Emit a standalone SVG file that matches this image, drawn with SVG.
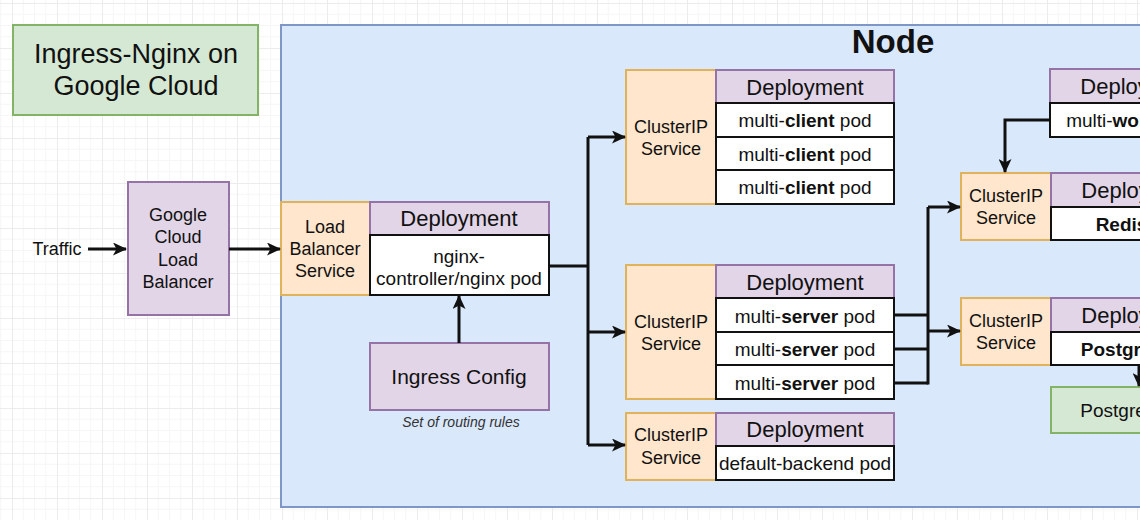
<svg xmlns="http://www.w3.org/2000/svg" width="1140" height="520" viewBox="0 0 1140 520">
<style>
text{font-family:"Liberation Sans",Arial,sans-serif;fill:#111;text-anchor:middle;dominant-baseline:central}
.svc{fill:#ffe6cc;stroke:#e0b25c;stroke-width:2}
.hdr{fill:#e1d5e7;stroke:#9673a6;stroke-width:2}
.pod{fill:#ffffff;stroke:#111;stroke-width:2}
.prp{fill:#e1d5e7;stroke:#9673a6;stroke-width:2}
.grn{fill:#d5e8d4;stroke:#82b366;stroke-width:2}
.t18{font-size:18px}
.t19{font-size:19px}
.t22{font-size:22px}
.b{font-weight:bold}
.cn{fill:none;stroke:#111;stroke-width:3}
.ca{fill:none;stroke:#111;stroke-width:3;marker-end:url(#arr)}
</style>
<defs>
<pattern id="grid" x="12" y="3" width="45" height="45" patternUnits="userSpaceOnUse">
<path d="M11.25,0V45M22.5,0V45M33.75,0V45M0,11.25H45M0,22.5H45M0,33.75H45" fill="none" stroke="#f6f6f6" stroke-width="1"/>
<path d="M0.5,0V45M0,0.5H45" fill="none" stroke="#ececec" stroke-width="1"/>
</pattern>
<marker id="arr" viewBox="0 0 14 13" markerWidth="14" markerHeight="13" refX="13" refY="6.5" orient="auto" markerUnits="userSpaceOnUse">
<path d="M0,0 L14,6.5 L0,13 L3.5,6.5 Z" fill="#111"/>
</marker>
</defs>
<rect x="0" y="0" width="1140" height="520" fill="#ffffff"/>
<rect x="0" y="0" width="1140" height="520" fill="url(#grid)"/>

<g id="title">
<rect class="grn" x="13" y="25" width="245" height="90"/>
<text x="136" y="54" style="font-size:27px">Ingress-Nginx on</text>
<text x="136" y="86" style="font-size:27px">Google Cloud</text>
</g>

<g id="node-container">
<rect x="281" y="25" width="900" height="482" fill="#dae8fc" stroke="#7f97c6" stroke-width="2"/>
<text x="893" y="41" class="b" style="font-size:33px">Node</text>
</g>

<g id="traffic">
<text class="t18" x="57" y="249">Traffic</text>
</g>

<g id="gclb">
<rect class="prp" x="128" y="182" width="101" height="133"/>
<text class="t18" x="178" y="215">Google</text>
<text class="t18" x="178" y="237">Cloud</text>
<text class="t18" x="178" y="260">Load</text>
<text class="t18" x="178" y="282">Balancer</text>
</g>

<g id="lb-service">
<rect class="svc" x="281" y="202" width="89" height="93"/>
<text class="t18" x="325" y="227">Load</text>
<text class="t18" x="325" y="249">Balancer</text>
<text class="t18" x="325" y="271">Service</text>
</g>

<g id="nginx-deployment">
<rect class="hdr" x="370" y="202" width="179" height="33"/>
<text class="t22" x="459" y="218">Deployment</text>
<rect class="pod" x="370" y="235" width="179" height="60"/>
<text class="t19" x="459" y="256">nginx-</text>
<text class="t19" x="459" y="278">controller/nginx pod</text>
</g>

<g id="ingress-config">
<rect class="prp" x="370" y="343" width="179" height="67"/>
<text x="459" y="376" style="font-size:21px">Ingress Config</text>
<text x="461" y="422" style="font-size:14px;font-style:italic;fill:#333">Set of routing rules</text>
</g>

<g id="client-group">
<rect class="svc" x="626" y="70" width="90" height="134"/>
<text class="t18" x="671" y="127">ClusterIP</text>
<text class="t18" x="671" y="149">Service</text>
<rect class="hdr" x="716" y="70" width="178" height="33"/>
<text class="t22" x="805" y="87">Deployment</text>
<rect class="pod" x="716" y="103" width="178" height="34"/>
<text class="t19" x="805" y="120">multi-<tspan class="b">client</tspan> pod</text>
<rect class="pod" x="716" y="137" width="178" height="33"/>
<text class="t19" x="805" y="154">multi-<tspan class="b">client</tspan> pod</text>
<rect class="pod" x="716" y="170" width="178" height="34"/>
<text class="t19" x="805" y="187">multi-<tspan class="b">client</tspan> pod</text>
</g>

<g id="server-group">
<rect class="svc" x="626" y="265" width="90" height="134"/>
<text class="t18" x="671" y="322">ClusterIP</text>
<text class="t18" x="671" y="344">Service</text>
<rect class="hdr" x="716" y="265" width="178" height="33"/>
<text class="t22" x="805" y="282">Deployment</text>
<rect class="pod" x="716" y="298" width="178" height="34"/>
<text class="t19" x="805" y="316">multi-<tspan class="b">server</tspan> pod</text>
<rect class="pod" x="716" y="332" width="178" height="33"/>
<text class="t19" x="805" y="349">multi-<tspan class="b">server</tspan> pod</text>
<rect class="pod" x="716" y="365" width="178" height="34"/>
<text class="t19" x="805" y="383">multi-<tspan class="b">server</tspan> pod</text>
</g>

<g id="backend-group">
<rect class="svc" x="626" y="413" width="90" height="67"/>
<text class="t18" x="671" y="435">ClusterIP</text>
<text class="t18" x="671" y="458">Service</text>
<rect class="hdr" x="716" y="413" width="178" height="33"/>
<text class="t22" x="805" y="429">Deployment</text>
<rect class="pod" x="716" y="446" width="178" height="34"/>
<text class="t19" x="805" y="463">default-backend pod</text>
</g>

<g id="worker-group">
<rect class="hdr" x="1050" y="69" width="178" height="34"/>
<text class="t22" x="1139" y="86">Deployment</text>
<rect class="pod" x="1050" y="103" width="178" height="34"/>
<text class="t19" x="1139" y="120">multi-<tspan class="b">worker</tspan> pod</text>
</g>

<g id="redis-group">
<rect class="svc" x="961" y="173" width="90" height="67"/>
<text class="t18" x="1006" y="196">ClusterIP</text>
<text class="t18" x="1006" y="218">Service</text>
<rect class="hdr" x="1051" y="173" width="178" height="34"/>
<text class="t22" x="1140" y="190">Deployment</text>
<rect class="pod" x="1051" y="207" width="178" height="33"/>
<text class="t19" x="1140" y="224"><tspan class="b">Redis</tspan> pod</text>
</g>

<g id="postgres-group">
<rect class="svc" x="961" y="298" width="90" height="67"/>
<text class="t18" x="1006" y="321">ClusterIP</text>
<text class="t18" x="1006" y="343">Service</text>
<rect class="hdr" x="1051" y="298" width="178" height="34"/>
<text class="t22" x="1140" y="315">Deployment</text>
<rect class="pod" x="1051" y="332" width="178" height="33"/>
<text class="t19" x="1140" y="349"><tspan class="b">Postgres</tspan> pod</text>
</g>

<g id="postgres-pvc">
<rect class="grn" x="1051" y="387" width="178" height="46"/>
<text class="t19" x="1140" y="410">Postgres PVC</text>
</g>

<g id="connectors">
<path class="ca" d="M88,249 H126"/>
<path class="ca" d="M229,249 H280"/>
<path class="ca" d="M459,343 V296"/>
<path class="cn" d="M549,266 H588"/>
<path class="cn" d="M588,137 V445"/>
<path class="ca" d="M588,137 H625"/>
<path class="ca" d="M588,332 H625"/>
<path class="ca" d="M588,445 H625"/>
<path class="cn" d="M894,315 H928 M894,349 H928 M894,383 H928"/>
<path class="cn" d="M928,207 V384.5"/>
<path class="ca" d="M928,207 H960"/>
<path class="ca" d="M928,331 H960"/>
<path class="ca" d="M1050,120 H1005 V172"/>
<path class="ca" d="M1139,365 V386"/>
</g>
</svg>
